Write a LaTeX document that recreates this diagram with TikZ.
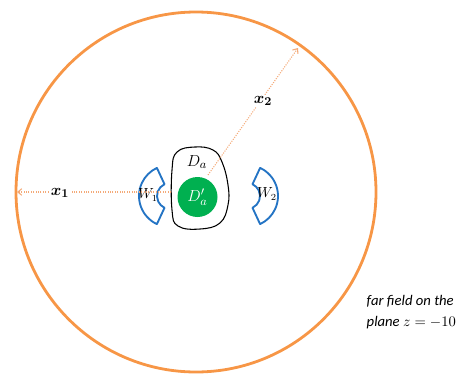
\documentclass[tikz,border=0pt]{standalone}
\usepackage{amsmath}
\usepackage{fontspec}
\newfontfamily\notefont{Carlito}
\usetikzlibrary{arrows.meta,positioning,calc}
\definecolor{farorange}{RGB}{247,150,70}
\definecolor{rayorange}{RGB}{244,170,120}
\definecolor{wallblue}{RGB}{36,116,196}
\definecolor{coregreen}{RGB}{0,176,80}

\begin{document}
\begin{tikzpicture}[
    x=0.75pt, y=0.75pt,
    wall/.style={draw=wallblue, line width=1.4pt, line join=round},
    core/.style={circle, fill=coregreen, minimum size=30pt, inner sep=0pt, text=white, font=\fontsize{13}{15}\selectfont},
    ray/.style={rayorange, densely dotted, line width=0.8pt, -{Straight Barb[length=3pt,width=5pt]}},
    lbl/.style={inner sep=1pt, font=\fontsize{13}{15}\selectfont},
    wlbl/.style={inner sep=0pt, font=\fontsize{10.5}{12}\selectfont}
]
\useasboundingbox (0,0) rectangle (456,376);

% far field
\node[circle, draw=farorange, line width=2.1pt, minimum size=270pt, inner sep=0pt] (far) at (196,184) {};
\node[anchor=west, align=left, font=\notefont\itshape\fontsize{11}{16}\selectfont] (note) at (362,64) {far field on the\\plane $z=-10$};

% object and core
\draw[black, line width=0.8pt] plot[smooth cycle, tension=0.7] coordinates
    {(172,206) (177,224) (195,229) (213,226) (222,214) (228,191) (228,171) (220,153) (200,147) (178,150) (172,166)};
\node[core] (core) at (197.5,179) {$D'_a$};
\node[lbl] (da) at (197,214) {$D_a$};

% windows
\coordinate (c1) at (170,180);
\coordinate (c2) at (247,180);
\draw[wall] ($(c1)+(115:13)$) arc[start angle=115, end angle=245, radius=13]
    -- ($(c1)+(245:31)$) arc[start angle=245, end angle=115, radius=31] -- cycle;
\draw[wall] ($(c2)+(-65:13)$) arc[start angle=-65, end angle=65, radius=13]
    -- ($(c2)+(65:31)$) arc[start angle=65, end angle=-65, radius=31] -- cycle;
\node[wlbl] (w1) at (148,181) {$W_1$};
\node[wlbl] (w2) at (267,182) {$W_2$};

% directions
\coordinate (p1) at (171,184);
\coordinate (q1) at (17,184);
\coordinate (p2) at (208,201);
\coordinate (q2) at (298,328);
\draw[ray] (p1) -- (q1);
\draw[ray] (p2) -- (q2);
\node[lbl, fill=white] (x1) at (60,183) {$\boldsymbol{x_1}$};
\node[lbl, fill=white] (x2) at (263,275) {$\boldsymbol{x_2}$};

\end{tikzpicture}
\end{document}
